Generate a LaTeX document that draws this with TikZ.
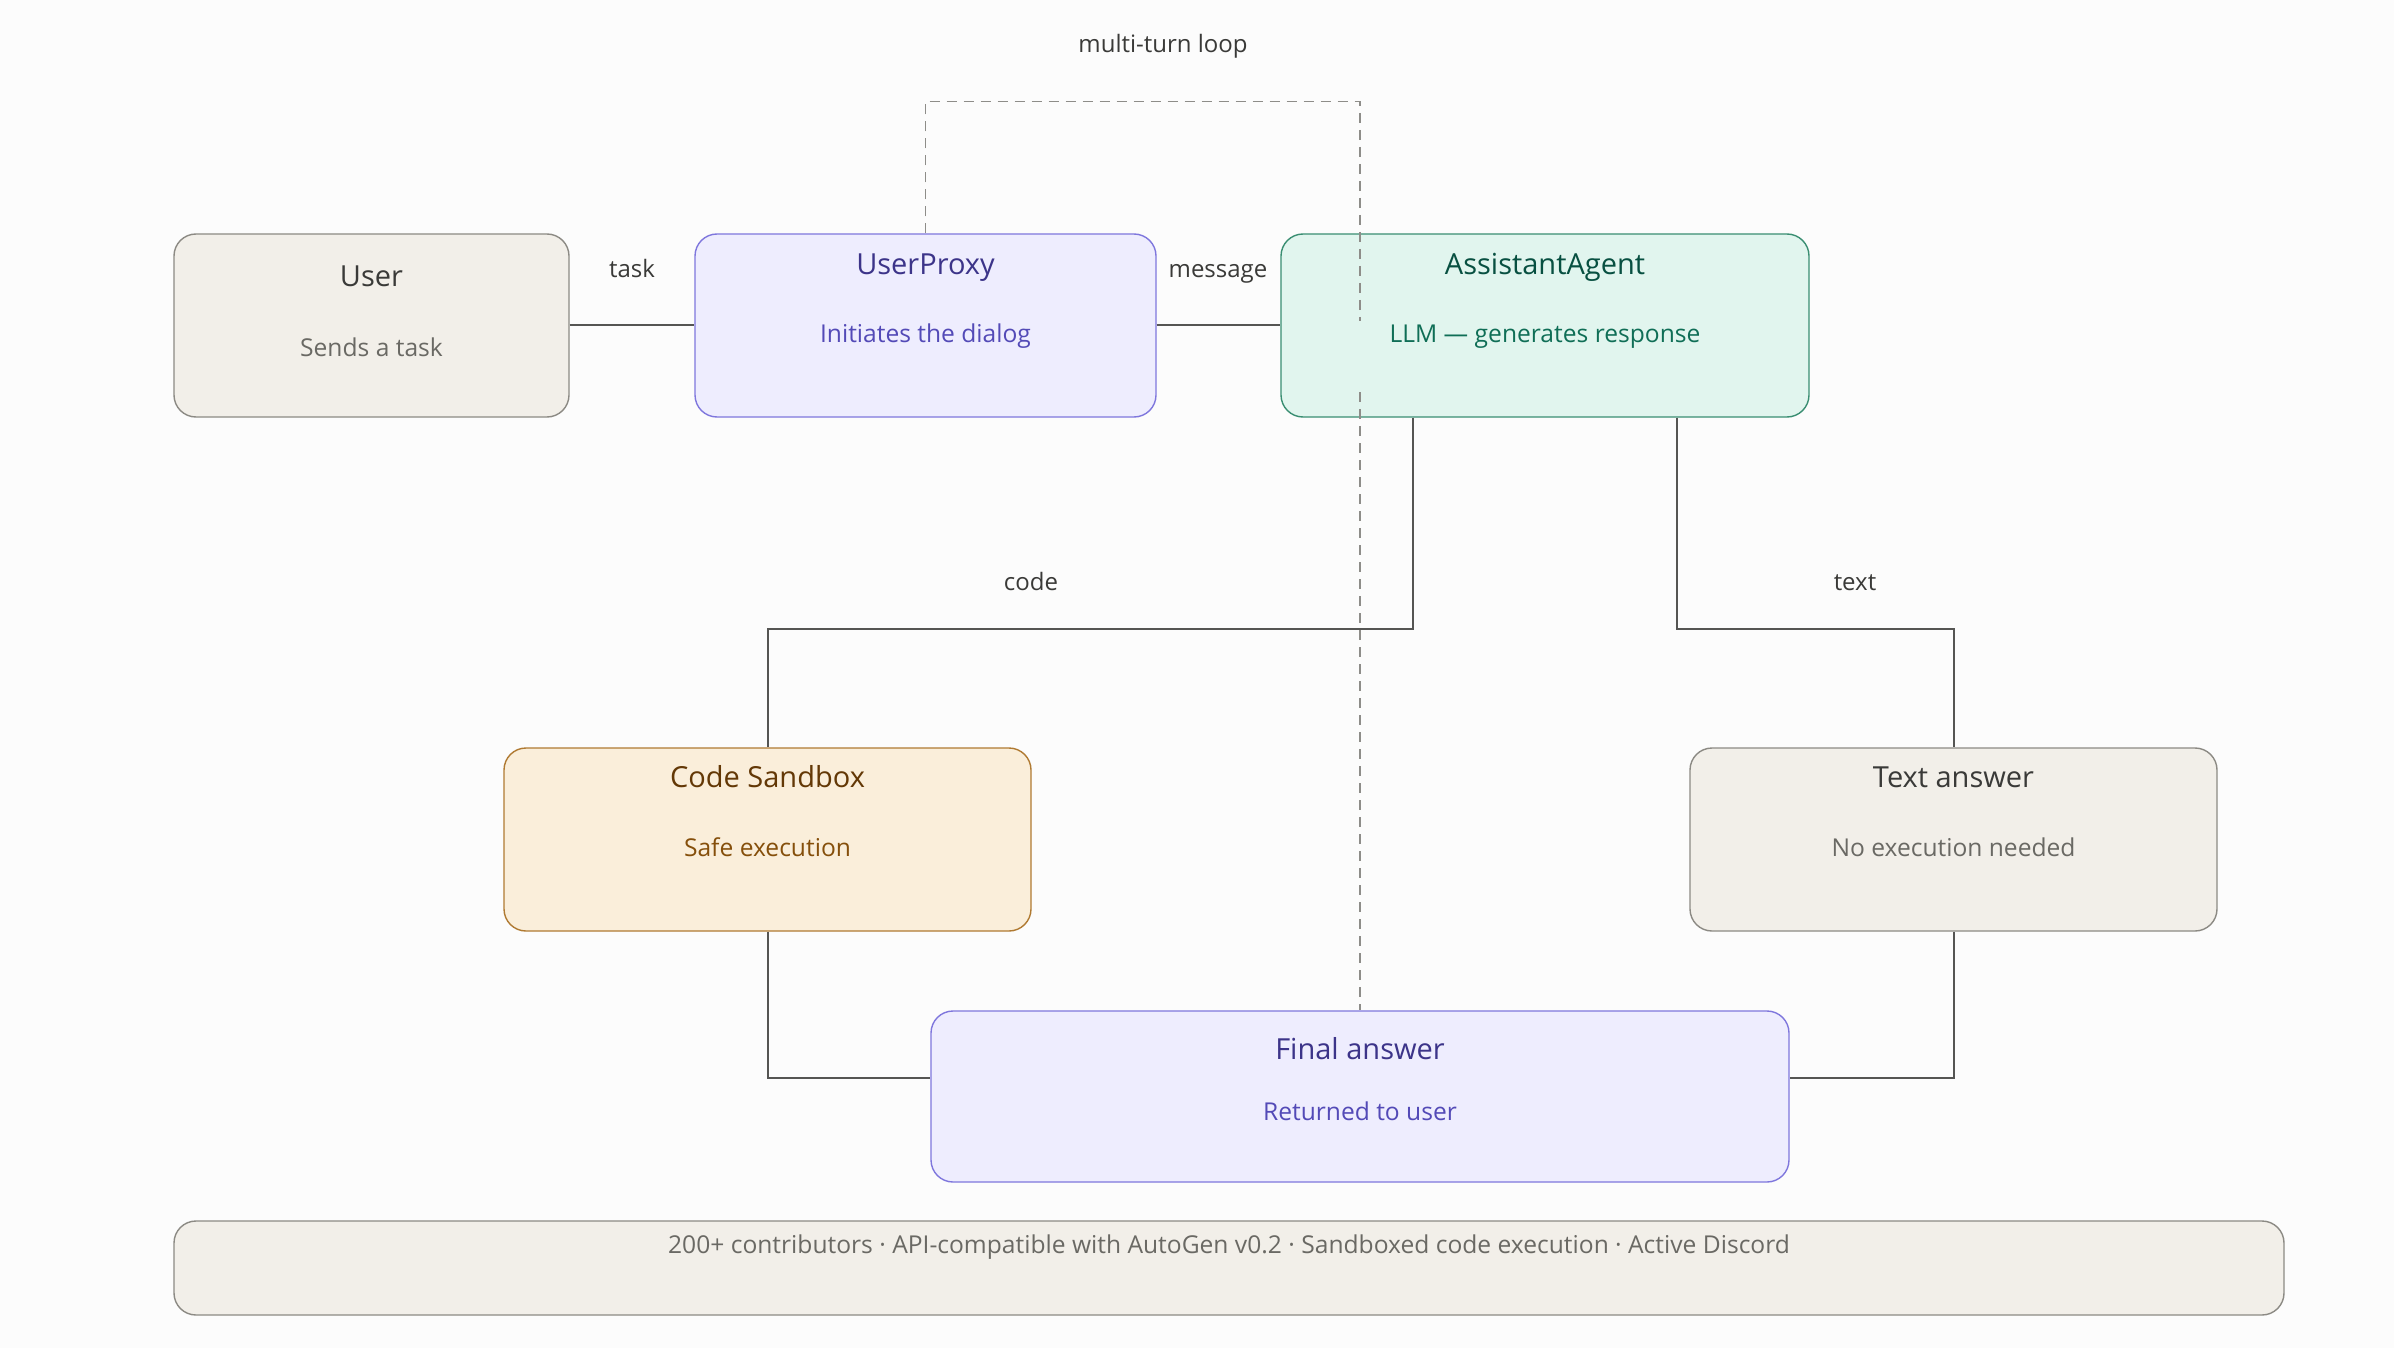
\documentclass[tikz,border=0pt]{standalone}
\usepackage{fontspec}
\setmainfont{Open Sans}
\usepackage{xcolor}
\usetikzlibrary{positioning,calc}
\definecolor{pagebg}{HTML}{FCFCFC}
\definecolor{grayfill}{HTML}{F2EFE9}
\definecolor{grayline}{HTML}{8C8A84}
\definecolor{graytitle}{HTML}{3A3A38}
\definecolor{graysub}{HTML}{6A6964}
\definecolor{purpfill}{HTML}{EEEDFE}
\definecolor{purpline}{HTML}{7F77DD}
\definecolor{purptitle}{HTML}{3C3489}
\definecolor{purpsub}{HTML}{534AB7}
\definecolor{tealfill}{HTML}{E1F5EE}
\definecolor{tealline}{HTML}{3A8E72}
\definecolor{tealtitle}{HTML}{085041}
\definecolor{tealsub}{HTML}{0F6E56}
\definecolor{ambfill}{HTML}{FAEEDA}
\definecolor{ambline}{HTML}{B07A32}
\definecolor{ambtitle}{HTML}{633806}
\definecolor{ambsub}{HTML}{854F0B}
\definecolor{wire}{HTML}{555553}
\definecolor{dashwire}{HTML}{8E8D89}
\definecolor{lbltext}{HTML}{3A3A38}

\begin{document}
\begin{tikzpicture}[
  x=0.5pt, y=-0.5pt,
  box/.style={draw, rounded corners=11pt, line width=0.7pt, minimum height=91.5pt, inner sep=0pt},
  gry/.style={box, fill=grayfill, draw=grayline},
  prp/.style={box, fill=purpfill, draw=purpline},
  tel/.style={box, fill=tealfill, draw=tealline},
  amb/.style={box, fill=ambfill, draw=ambline},
  ttl/.style={anchor=base, font=\fontsize{14.5}{17}\selectfont},
  subt/.style={anchor=base, font=\fontsize{12.3}{15}\selectfont},
  lbl/.style={anchor=base, font=\fontsize{12}{14}\selectfont, text=lbltext},
  arr/.style={draw=wire, line width=1pt},
  loopln/.style={draw=dashwire, line width=0.7pt, dash pattern=on 5pt off 3.5pt}
]
\fill[pagebg] (0,0) rectangle (2394,1348);

\node[gry, minimum width=197.5pt] (usr) at (371.5,325.5) {};
\node[prp, minimum width=230.5pt] (up) at (925.5,325.5) {};
\node[tel, minimum width=264pt] (aa) at (1545,325.5) {};
\node[amb, minimum width=263.5pt] (cs) at (767.5,839.5) {};
\node[gry, minimum width=263.5pt] (ta) at (1953.5,839.5) {};
\node[prp, minimum width=429pt, minimum height=85.5pt] (fa) at (1360,1096.5) {};
\node[gry, minimum width=1055pt, minimum height=47pt] (ft) at (1229,1268) {};

\node[ttl, text=graytitle] (usrT) at ($(usr.north)+(0,53)$) {User};
\node[subt, text=graysub] (usrS) at ($(usr.north)+(0,123)$) {Sends a task};
\node[ttl, text=purptitle] (upT) at ($(up.north)+(0,41)$) {UserProxy};
\node[subt, text=purpsub] (upS) at ($(up.north)+(0,109)$) {Initiates the dialog};
\node[ttl, text=tealtitle] (aaT) at ($(aa.north)+(0,41)$) {AssistantAgent};
\node[subt, text=tealsub] (aaS) at ($(aa.north)+(0,109)$) {LLM — generates response};
\node[ttl, text=ambtitle] (csT) at ($(cs.north)+(0,40)$) {Code Sandbox};
\node[subt, text=ambsub] (csS) at ($(cs.north)+(0,109)$) {Safe execution};
\node[ttl, text=graytitle] (taT) at ($(ta.north)+(0,40)$) {Text answer};
\node[subt, text=graysub] (taS) at ($(ta.north)+(0,109)$) {No execution needed};
\node[ttl, text=purptitle] (faT) at ($(fa.north)+(0,49)$) {Final answer};
\node[subt, text=purpsub] (faS) at ($(fa.north)+(0,110)$) {Returned to user};
\node[lbl, text=graysub, font=\fontsize{12.3}{15}\selectfont] (ftT) at ($(ft.north)+(0,33)$) {200+ contributors · API-compatible with AutoGen v0.2 · Sandboxed code execution · Active Discord};

\draw[arr] (usr) -- (up);
\draw[arr] (up) -- (aa);
\node[lbl] (ltask) at (632,278) {task};
\node[lbl] (lmsg) at (1218,278) {message};

\coordinate (aaL) at ($(aa.south west)!0.25!(aa.south east)$);
\coordinate (aaR) at ($(aa.south west)!0.75!(aa.south east)$);
\draw[arr] (aaL) -- ++(0,211) -| (cs.north);
\draw[arr] (aaR) -- ++(0,211) -| (ta.north);
\node[lbl] (lcode) at (1031,590) {code};
\node[lbl] (ltext) at (1855,590) {text};

\draw[arr] (cs.south) |- ([yshift=9.25pt]fa.west);
\draw[arr] (ta.south) |- ([yshift=9.25pt]fa.east);

\coordinate (gapA) at (1360,321);
\coordinate (gapB) at (1360,392);
\draw[loopln] (up.north) -- ++(0,-132) -| (gapA);
\draw[loopln] (gapB) -- (fa.north);
\node[lbl] (lloop) at (1163,53) {multi-turn loop};
\end{tikzpicture}
\end{document}
